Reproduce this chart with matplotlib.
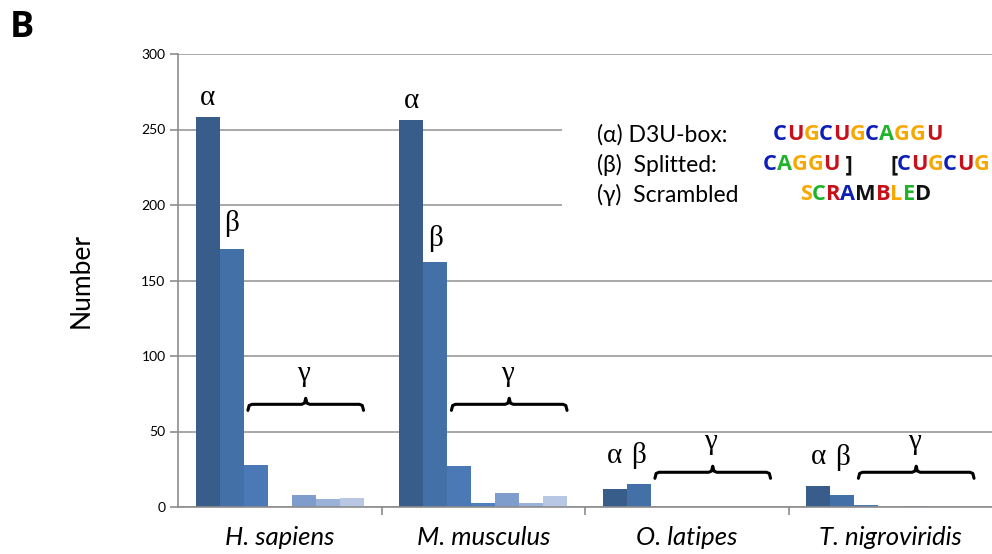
import numpy as np
import matplotlib.pyplot as plt
from matplotlib.offsetbox import TextArea, HPacker, AnnotationBbox
from matplotlib.patches import Rectangle

# -------------------------
# data
# -------------------------
species = ["H. sapiens", "M. musculus", "O. latipes", "T. nigroviridis"]
alpha_counts = [258, 256, 12, 14]
beta_counts = [171, 162, 15, 8]
gamma1 = [28, 27, 0, 1.5]
gamma2 = [0, 2.5, 0, 0]
gamma3 = [8, 9, 0, 0.5]
gamma4 = [5, 2.5, 0.5, 0.3]
gamma5 = [6, 7, 0, 0]

series = [alpha_counts, beta_counts, gamma1, gamma2, gamma3, gamma4, gamma5]
colors = ["#385d8a", "#4470a8", "#4a79b5", "#4d7fc0", "#7f9dcc", "#9ab1d8", "#b8c8e4"]

# label heights (annotation layout)
lab_alpha_y = [271, 269, 34, 33]
lab_beta_y = [188, 178, 34, 33]
lab_gamma_y = [88, 88, 43, 43]
brace_y = [68, 68, 23, 23]

BLUE, RED, ORANGE, GREEN, BLACK = "#0c1db8", "#c8101a", "#f7a800", "#20b22a", "#111111"
seq_lines = [
    (135, 773, [("C", BLUE), ("U", RED), ("G", ORANGE), ("C", BLUE), ("U", RED), ("G", ORANGE),
                ("C", BLUE), ("A", GREEN), ("G", ORANGE), ("G", ORANGE), ("U", RED)]),
    (165, 763, [("C", BLUE), ("A", GREEN), ("G", ORANGE), ("G", ORANGE), ("U", RED), (" ]", BLACK)]),
    (165, 890, [("[", BLACK), ("C", BLUE), ("U", RED), ("G", ORANGE), ("C", BLUE), ("U", RED),
                ("G", ORANGE)]),
    (195, 800, [("S", ORANGE), ("C", GREEN), ("R", RED), ("A", BLUE), ("M", BLACK), ("B", RED),
                ("L", ORANGE), ("E", GREEN), ("D", BLACK)]),
]
legend_rows = [(135, "(α) D3U-box:"), (165, "(β)  Splitted:"), (195, "(γ)  Scrambled")]

# -------------------------
# plot
# -------------------------
W, H = 992, 554
fig = plt.figure(figsize=(W / 100, H / 100), dpi=100)
ax = fig.add_axes([178 / W, 1 - 507 / H, 814 / W, 453 / H])

w = 1 / 8.5
x = np.arange(len(species))
for i, (vals, c) in enumerate(zip(series, colors)):
    ax.bar(x + (i - 3) * w, vals, width=w, color=c, zorder=2, linewidth=0)

ax.set_xlim(-0.5, 3.5)
ax.set_ylim(0, 300)
ax.set_yticks(np.arange(0, 301, 50))
ax.yaxis.grid(True, color="#9a9a9a", linewidth=1.2, zorder=0)
ax.set_axisbelow(True)

for s in ["top", "right"]:
    ax.spines[s].set_visible(False)
for s in ["left", "bottom"]:
    ax.spines[s].set_color("#8c8c8c")
    ax.spines[s].set_linewidth(1.2)

ax.set_xticks(x)
ax.set_xticklabels(species, fontsize=18.5, style="italic", family="Lato")
ax.set_xticks([0.5, 1.5, 2.5], minor=True)
ax.tick_params(axis="x", which="major", length=0, pad=14)
ax.tick_params(axis="x", which="minor", length=6, color="#8c8c8c", width=1.2)
ax.tick_params(axis="y", length=6, color="#8c8c8c", width=1.2, labelsize=10, pad=3)
for t in ax.get_yticklabels():
    t.set_family("Lato")
ax.set_ylabel("Number", fontsize=19, family="Lato", labelpad=34)

# white box behind the legend text (pixel coords, bottom-left origin)
ax.add_patch(Rectangle((562, H - 215), 430, 105, transform=None, facecolor="white",
                       edgecolor="none", zorder=1))


def brace(x0, x1, y, h=4, d=0.02):
    xm = (x0 + x1) / 2
    xs = [x0, x0 + d * 0.3, x0 + d, xm - d, xm - d * 0.3, xm, xm + d * 0.3, xm + d, x1 - d,
          x1 - d * 0.3, x1]
    ys = [y - h, y - h * 0.2, y, y, y + h * 0.2, y + h, y + h * 0.2, y, y, y - h * 0.2, y - h]
    ax.plot(xs, ys, color="black", lw=2.2, solid_capstyle="round", zorder=3)


greek = dict(fontsize=21, family="Liberation Serif", ha="center", va="center", zorder=3)
for k in range(len(species)):
    ax.text(x[k] - 3 * w, lab_alpha_y[k], "α", **greek)
    ax.text(x[k] - 2 * w, lab_beta_y[k], "β", **greek)
    ax.text(x[k] + w, lab_gamma_y[k], "γ", **greek)
    brace(x[k] - 1.5 * w + 0.02, x[k] + 3.5 * w, brace_y[k])

for ypx, txt in legend_rows:
    fig.text(597 / W, 1 - ypx / H, txt, fontsize=16.5, family=["Lato", "Liberation Serif"],
             ha="left", va="center")

for ypx, xpx, letters in seq_lines:
    parts = [TextArea(ch, textprops=dict(color=c, fontsize=15.7, weight="bold", family="Open Sans"))
             for ch, c in letters]
    box = HPacker(children=parts, sep=0, pad=0, align="baseline")
    ab = AnnotationBbox(box, (xpx / W, 1 - ypx / H), xycoords="figure fraction",
                        box_alignment=(0, 0.5), frameon=False, pad=0, annotation_clip=False)
    fig.add_artist(ab)

fig.text(10 / W, 1 - 28 / H, "B", fontsize=26, weight="bold", family="Open Sans",
         ha="left", va="center")

fig.savefig("out.png", dpi=100)
